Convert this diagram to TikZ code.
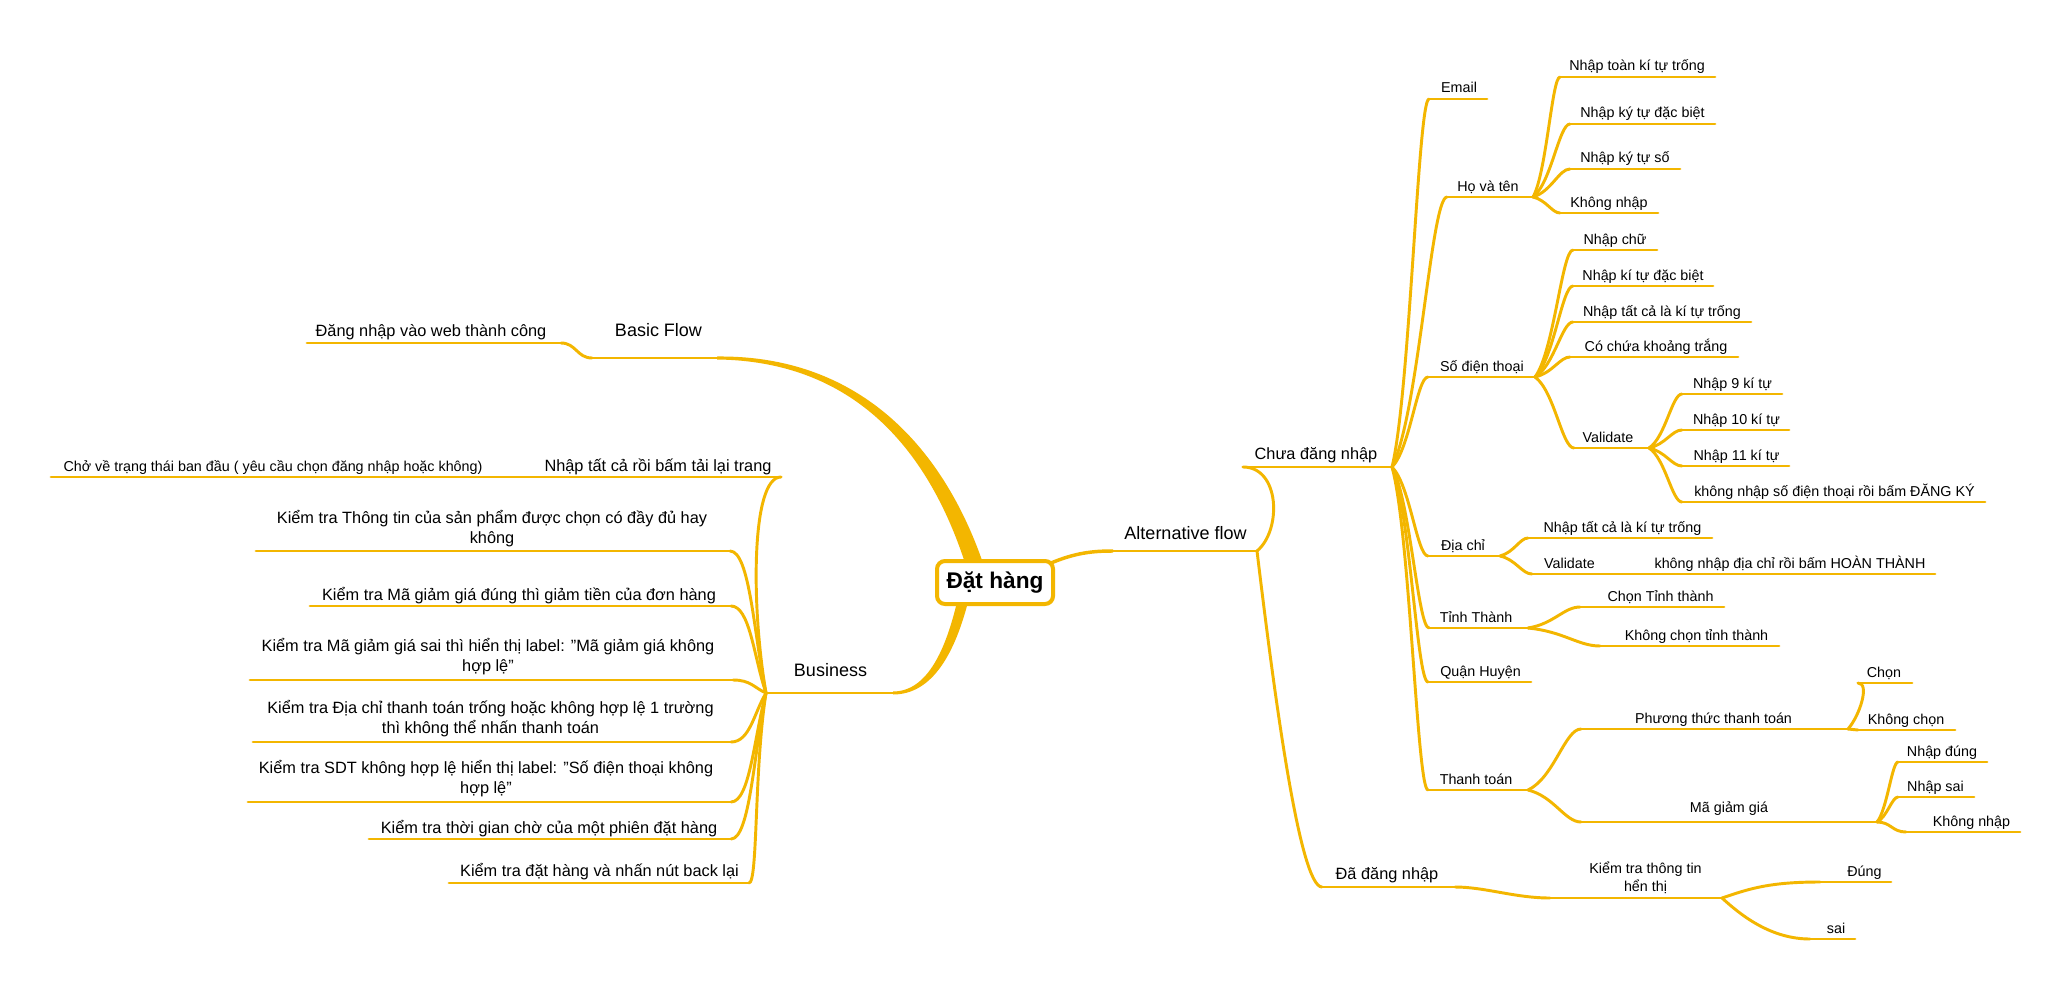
\documentclass[tikz,border=0pt]{standalone}
\usepackage{fontspec}
\setmainfont{Liberation Sans}
\usetikzlibrary{calc}
\pgfdeclarelayer{bgzero}
\pgfdeclarelayer{background}
\pgfsetlayers{bgzero,background,main}
\definecolor{gold}{RGB}{243,182,0}
\tikzset{
 ul/.style={draw=gold, line width=2.2pt, line cap=round},
 br/.style={draw=gold, line width=2.2pt, line cap=round},
 t0/.style={font=\fontsize{13.5}{16}\selectfont, inner sep=0pt, anchor=base, text=black},
 t1/.style={font=\fontsize{12.25}{15}\selectfont, inner sep=0pt, anchor=base, text=black},
 t2/.style={font=\fontsize{10.75}{13.5}\selectfont, inner sep=0pt, anchor=base, text=black},
 t1m/.style={t1, align=center, anchor=south},
 t2m/.style={t2, align=center, anchor=south},
 rootbox/.style={draw=gold, fill=white, line width=3pt, rounded corners=6pt, minimum width=87pt, minimum height=32.25pt, inner sep=0pt, font=\fontsize{17}{20}\selectfont\bfseries},
 taper/.style={fill=gold, draw=none},
}
% name, style, xl, xr, yu, xt, yt, text
\newcommand\topic[8]{%
 \coordinate (#1-l) at (#3,#5);
 \coordinate (#1-r) at (#4,#5);
 \draw[ul] (#1-l) -- (#1-r);
 \node[#2] (#1) at (#6,#7) {#8};
}
% from, to, ax(px), fy, cx(px)
\newcommand\lc[5]{\draw[br] let \p1=(#1), \p2=(#2) in (\p1) .. controls ({\x1+(#3)*0.75pt},{\y1+(#4)*(\y2-\y1)}) and ({\x2+(#5)*0.75pt},\y2) .. (\p2);}

\begin{document}
\begin{tikzpicture}[x=0.75pt,y=-0.75pt]
\useasboundingbox (0,0) rectangle (2069,988);
\begin{pgfonlayer}{bgzero}
\fill[white] (0,0) rectangle (2069,988);
\end{pgfonlayer}

% root
\node[rootbox] (root) at (995,582.5) {Đặt hàng};

% ---------- Basic Flow ----------
\topic{bf}{t0}{592}{717}{358}{658.5}{336.5}{Basic Flow}
\topic{bf1}{t1}{307}{561}{343}{431}{336}{Đăng nhập vào web thành công}
\lc{bf-l}{bf1-r}{-15}{0}{15}

% ---------- Business ----------
\topic{bu}{t0}{766}{893}{693}{830.5}{676}{Business}
\begin{pgfonlayer}{background}
\fill[taper] (bf-r) ++(0,-1.5) .. controls (855,355) and (942,442) .. (984,566) -- (966,566) .. controls (928,447) and (852,361) .. (717,359.5) -- cycle;
\fill[taper] (bu-r) ++(0,-1.5) .. controls (928,691.5) and (946,648) .. (957,602) -- (968,602) .. controls (955,652) and (933,694.5) .. (893,694.5) -- cycle;
\end{pgfonlayer}
\topic{bu1}{t1}{497}{781}{477}{658}{471}{Nhập tất cả rồi bấm tải lại trang}
\topic{bu1a}{t2}{51}{490}{477}{273}{471}{Chở về trạng thái ban đầu ( yêu cầu chọn đăng nhập hoặc không)}
\lc{bu1-l}{bu1a-r}{-3}{0}{3}
\topic{bu2}{t1m}{256}{730}{551}{492}{550}{Kiểm tra Thông tin của sản phẩm được chọn có đầy đủ hay\\không\strut}
\topic{bu3}{t1}{310}{731}{606}{519}{600}{Kiểm tra Mã giảm giá đúng thì giảm tiền của đơn hàng}
\topic{bu4}{t1m}{250}{733}{680}{488}{678}{Kiểm tra Mã giảm giá sai thì hiển thị label: "Mã giảm giá không\\hợp lệ"\strut}
\topic{bu5}{t1m}{253}{731}{742}{490.5}{740}{Kiểm tra Địa chỉ thanh toán trống hoặc không hợp lệ 1 trường\\thì không thể nhấn thanh toán\strut}
\topic{bu6}{t1m}{248}{731}{802}{486}{800}{Kiểm tra SDT không hợp lệ hiển thị label: "Số điện thoại không\\hợp lệ"\strut}
\topic{bu7}{t1}{369}{731}{839}{549}{833}{Kiểm tra thời gian chờ của một phiên đặt hàng}
\topic{bu8}{t1}{449}{749}{883}{599.5}{876}{Kiểm tra đặt hàng và nhấn nút back lại}
\lc{bu-l}{bu1-r}{-15}{0.4}{-30}
\lc{bu-l}{bu2-r}{-12}{0.4}{20}
\lc{bu-l}{bu3-r}{-12}{0.4}{19}
\lc{bu-l}{bu4-r}{-12}{0.4}{18}
\lc{bu-l}{bu5-r}{-12}{0.4}{19}
\lc{bu-l}{bu6-r}{-12}{0.4}{19}
\lc{bu-l}{bu7-r}{-12}{0.4}{19}
\lc{bu-l}{bu8-r}{-12}{0.4}{9}

% ---------- Alternative flow ----------
\topic{af}{t0}{1113}{1257}{551}{1185.5}{539}{Alternative flow}
\draw[gold, line width=2.6pt] ($(root.north east)+(-4,4)$) .. controls (1075,553) and (1092,551) .. (af-l);
\topic{cd}{t1}{1243}{1392}{467}{1316}{459}{Chưa đăng nhập}
\topic{dd}{t1}{1322}{1455}{887}{1387}{879}{Đã đăng nhập}
\lc{af-r}{cd-l}{25}{0.25}{37}
\lc{af-r}{dd-l}{18}{0.445}{-22}

% Chua dang nhap children
\topic{em}{t2}{1429}{1487}{99}{1459}{93}{Email}
\topic{ht}{t2}{1447}{1533}{197}{1488}{191}{Họ và tên}
\topic{sd}{t2}{1428}{1535}{377}{1482}{371}{Số điện thoại}
\topic{dc}{t2}{1428}{1500}{556}{1463}{550}{Địa chỉ}
\topic{tt}{t2}{1429}{1528}{628}{1476}{622}{Tỉnh Thành}
\topic{qh}{t2}{1428}{1531}{682}{1480.5}{676}{Quận Huyện}
\topic{tn}{t2}{1428}{1528}{790}{1476}{784}{Thanh toán}
\lc{cd-r}{em-l}{18}{0.2}{-11}
\lc{cd-r}{ht-l}{27}{0.2}{-16}
\lc{cd-r}{sd-l}{18}{0.2}{-11}
\lc{cd-r}{dc-l}{18}{0.2}{-11}
\lc{cd-r}{tt-l}{18}{0.2}{-11}
\lc{cd-r}{qh-l}{18}{0.2}{-11}
\lc{cd-r}{tn-l}{18}{0.2}{-11}

% Ho va ten
\topic{ht1}{t2}{1560}{1715}{77}{1637}{71}{Nhập toàn kí tự trống}
\topic{ht2}{t2}{1570}{1715}{124}{1642.5}{118}{Nhập ký tự đặc biệt}
\topic{ht3}{t2}{1570}{1680}{169}{1625}{163}{Nhập ký tự số}
\topic{ht4}{t2}{1560}{1658}{213}{1609}{207}{Không nhập}
\lc{ht-r}{ht1-l}{13.5}{0.2}{-8}
\lc{ht-r}{ht2-l}{18.5}{0.2}{-11}
\lc{ht-r}{ht3-l}{18.5}{0.2}{-11}
\lc{ht-r}{ht4-l}{13.5}{0.2}{-8}

% So dien thoai
\topic{sd1}{t2}{1573}{1657}{250}{1615}{244}{Nhập chữ}
\topic{sd2}{t2}{1573}{1713}{286}{1643}{280}{Nhập kí tự đặc biệt}
\topic{sd3}{t2}{1573}{1751}{322}{1662}{316}{Nhập tất cả là kí tự trống}
\topic{sd4}{t2}{1570}{1738}{357}{1656}{351}{Có chứa khoảng trắng}
\topic{sd5}{t2}{1574}{1649}{448}{1608}{442}{Validate}
\lc{sd-r}{sd1-l}{19}{0.2}{-11}
\lc{sd-r}{sd2-l}{19}{0.2}{-11}
\lc{sd-r}{sd3-l}{19}{0.2}{-11}
\lc{sd-r}{sd4-l}{17.5}{0.2}{-10}
\lc{sd-r}{sd5-l}{19.5}{0.2}{-12}

% Validate
\topic{va1}{t2}{1682}{1782}{394}{1732.5}{388}{Nhập 9 kí tự}
\topic{va2}{t2}{1682}{1789}{430}{1736.5}{424}{Nhập 10 kí tự}
\topic{va3}{t2}{1682}{1789}{466}{1736.5}{460}{Nhập 11 kí tự}
\topic{va4}{t2}{1682}{1985}{502}{1834.5}{496}{không nhập số điện thoại rồi bấm ĐĂNG KÝ}
\lc{sd5-r}{va1-l}{16.5}{0.2}{-10}
\lc{sd5-r}{va2-l}{16.5}{0.2}{-10}
\lc{sd5-r}{va3-l}{16.5}{0.2}{-10}
\lc{sd5-r}{va4-l}{16.5}{0.2}{-10}

% Dia chi
\topic{dc1}{t2}{1528}{1712}{538}{1622.5}{532}{Nhập tất cả là kí tự trống}
\topic{dc2}{t2}{1532}{1607}{574}{1569.5}{568}{Validate}
\topic{dc2a}{t2}{1645}{1935}{574}{1790}{568}{không nhập địa chỉ rồi bấm HOÀN THÀNH}
\lc{dc-r}{dc1-l}{14}{0.2}{-8}
\lc{dc-r}{dc2-l}{16}{0.2}{-10}
\draw[br] (dc2-r) -- (dc2a-l);

% Tinh thanh
\topic{tt1}{t2}{1580}{1724}{607}{1660.5}{601}{Chọn Tỉnh thành}
\topic{tt2}{t2}{1600}{1779}{646}{1696.5}{640}{Không chọn tỉnh thành}
\lc{tt-r}{tt1-l}{26}{0.2}{-16}
\lc{tt-r}{tt2-l}{36}{0.2}{-22}

% Thanh toan
\topic{tn1}{t2}{1581}{1848}{729}{1713.5}{723}{Phương thức thanh toán}
\topic{tn2}{t2}{1581}{1877}{822}{1729}{812}{Mã giảm giá}
\lc{tn-r}{tn1-l}{26}{0.2}{-16}
\lc{tn-r}{tn2-l}{26}{0.2}{-16}
\topic{pt1}{t2}{1858}{1912}{683}{1884}{677}{Chọn}
\topic{pt2}{t2}{1858}{1955}{730}{1906}{724}{Không chọn}
\lc{tn1-r}{pt1-l}{12}{0.3}{12}
\lc{tn1-r}{pt2-l}{5}{0}{-5}
\topic{mg1}{t2}{1898}{1987}{762}{1942}{756}{Nhập đúng}
\topic{mg2}{t2}{1898}{1974}{797}{1935.5}{791}{Nhập sai}
\topic{mg3}{t2}{1906}{2020}{832}{1971.5}{826}{Không nhập}
\lc{tn2-r}{mg1-l}{10}{0.2}{-6}
\lc{tn2-r}{mg2-l}{10}{0.2}{-6}
\lc{tn2-r}{mg3-l}{14}{0}{-14}

% Da dang nhap
\topic{kt}{t2m}{1550}{1722}{898}{1645.5}{897.4}{Kiểm tra thông tin\\hển thị\strut}
\lc{dd-r}{kt-l}{30}{0}{-35}
\topic{kt1}{t2}{1820}{1891}{882}{1864.5}{876}{Đúng}
\topic{kt2}{t2}{1810}{1855}{939}{1836}{933}{sai}
\lc{kt-r}{kt1-l}{28}{0.6}{-50}
\lc{kt-r}{kt2-l}{18}{0.4}{-40}
\end{tikzpicture}
\end{document}
